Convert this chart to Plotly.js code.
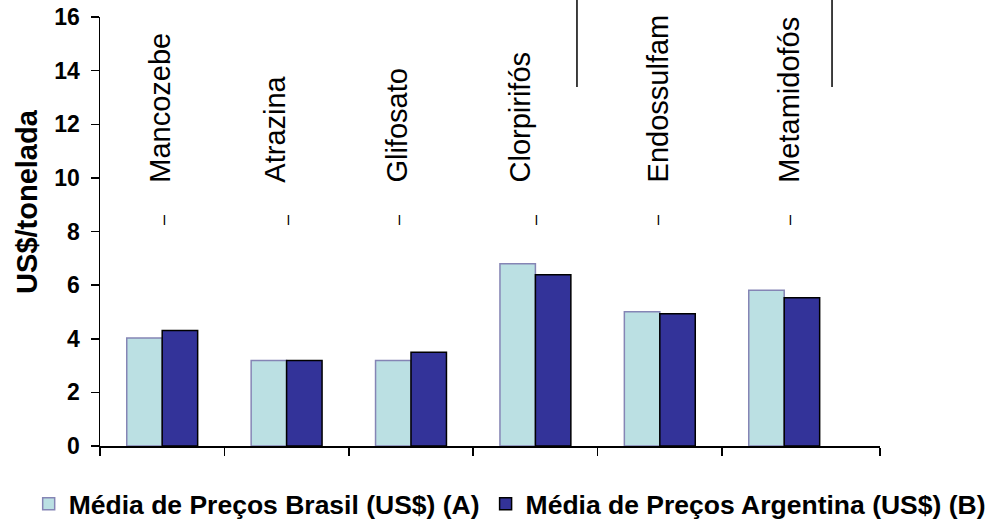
<!DOCTYPE html>
<html>
<head>
<meta charset="utf-8">
<script src="https://cdn.plot.ly/plotly-3.0.1.min.js"></script>
<style>
  html, body { margin: 0; padding: 0; background: #fff; }
  #chart { width: 989px; height: 526px; }
</style>
</head>
<body>
<div id="chart"></div>
<script>
// ---- data ----
const categories = ["Mancozebe", "Atrazina", "Glifosato", "Clorpirifós", "Endossulfam", "Metamidofós"];
const brasil = [4.03, 3.19, 3.19, 6.80, 5.01, 5.81];
const argentina = [4.31, 3.19, 3.50, 6.39, 4.93, 5.53];
const seriesNames = ["Média de Preços Brasil (US$) (A)", "Média de Preços Argentina (US$) (B)"];
const yTicks = [0, 2, 4, 6, 8, 10, 12, 14, 16];
const yTitle = "US$/tonelada";

// ---- layout helpers (styling only) ----
const FONT = "Liberation Sans, Arial, sans-serif";
const xIdx = categories.map((_, i) => i);
const labelShift = [-3, -12, -14, -15, -2, 4];
const dashShift = [2, 2, -12, 1, -1, 6];

const traces = [
  {
    type: "bar", name: seriesNames[0], x: xIdx, y: brasil, legend: "legend",
    marker: { color: "#BBE0E3", line: { color: "#8585B5", width: 1.5 } }
  },
  {
    type: "bar", name: seriesNames[1], x: xIdx, y: argentina, legend: "legend2",
    marker: { color: "#333399", line: { color: "#000000", width: 1.5 } }
  }
];

const annotations = [];
categories.forEach((c, i) => {
  annotations.push({
    x: i, y: 9.75, xref: "x", yref: "y", text: c, showarrow: false,
    textangle: -90, xanchor: "center", yanchor: "bottom", xshift: labelShift[i],
    font: { family: FONT, size: 29, color: "#000" }
  });
  annotations.push({
    x: i, y: 8.46, xref: "x", yref: "y", text: "|", showarrow: false,
    xanchor: "center", yanchor: "middle", xshift: dashShift[i],
    font: { family: FONT, size: 10, color: "#000", weight: "bold" }
  });
});
annotations.push({
  x: 0, y: 0.569, xref: "paper", yref: "paper", text: "<b>" + yTitle + "</b>",
  showarrow: false, textangle: -90, xanchor: "center", yanchor: "middle", xshift: -73,
  font: { family: FONT, size: 29, color: "#000" }
});

const legendBase = {
  orientation: "h", xref: "container", yref: "container",
  y: 0.042, xanchor: "left", yanchor: "middle",
  font: { family: FONT, size: 26.5, color: "#000", weight: "bold" },
  bgcolor: "rgba(0,0,0,0)", borderwidth: 0
};

const layout = {
  width: 989, height: 526,
  margin: { l: 100, r: 109, t: 17, b: 80, autoexpand: false },
  paper_bgcolor: "#fff", plot_bgcolor: "#fff",
  barmode: "group", bargap: 0.43, bargroupgap: 0,
  showlegend: true,
  legend: Object.assign({}, legendBase, { x: 0.029 }),
  legend2: Object.assign({}, legendBase, { x: 0.491 }),
  xaxis: {
    range: [-0.5, 5.77], showgrid: false, zeroline: false,
    showline: true, linecolor: "#000", linewidth: 1.5,
    tickmode: "array", tickvals: [-0.5, 0.5, 1.5, 2.5, 3.5, 4.5, 5.77], ticktext: ["", "", "", "", "", "", ""],
    ticks: "outside", ticklen: 8, tickwidth: 1.5, tickcolor: "#000"
  },
  yaxis: {
    range: [0, 16], showgrid: false, zeroline: false,
    showline: true, linecolor: "#000", linewidth: 1.5,
    tickmode: "array", tickvals: yTicks, ticktext: yTicks.map(String),
    ticks: "outside", ticklen: 8, tickwidth: 1.5, tickcolor: "#000",
    ticklabelstandoff: 6,
    tickfont: { family: FONT, size: 23, color: "#000", weight: "bold" }
  },
  annotations: annotations,
  shapes: [
    { type: "line", xref: "paper", yref: "paper", x0: 0.6115, x1: 0.6115, y0: 0.837, y1: 1.04, line: { color: "#000", width: 1.5 } },
    { type: "line", xref: "paper", yref: "paper", x0: 0.9385, x1: 0.9385, y0: 0.837, y1: 1.04, line: { color: "#000", width: 1.5 } }
  ]
};

Plotly.newPlot("chart", traces, layout, { displayModeBar: false, staticPlot: true });
</script>
</body>
</html>
